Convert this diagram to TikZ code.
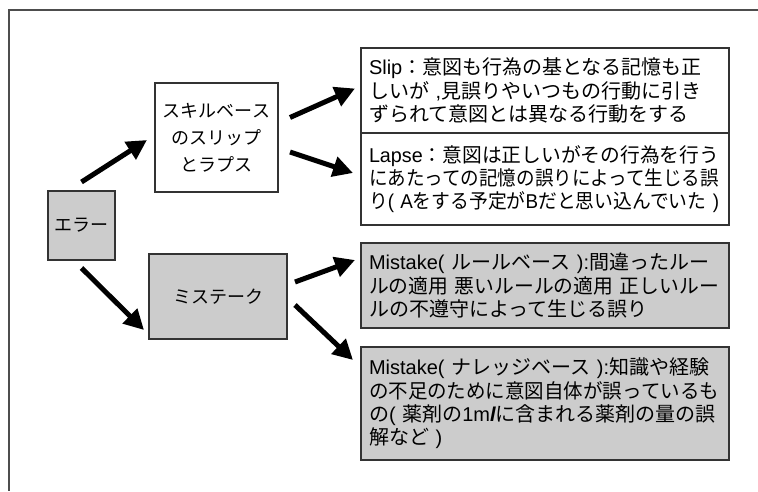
\documentclass[tikz,border=0pt]{standalone}
\usepackage{fontspec}
\usepackage{graphicx}
\setmainfont{Noto Sans CJK JP}
\newfontfamily\lat{Liberation Sans}
\usetikzlibrary{arrows.meta,calc}
\definecolor{boxgray}{HTML}{CCCCCC}
\definecolor{edgegray}{HTML}{333333}
\definecolor{framegray}{HTML}{4D4D4D}
\newsavebox\mylinebox
\newcommand\oneline[1]{\sbox\mylinebox{#1}\ifdim\wd\mylinebox>350pt \resizebox{350pt}{\height}{\usebox\mylinebox}\else\usebox\mylinebox\fi}
\begin{document}
\begin{tikzpicture}[x=1pt,y=-1pt,
  box/.style={draw=edgegray,line width=1.3pt,inner sep=0pt,outer sep=0pt},
  leftbox/.style={box,align=center,font=\fontsize{18}{27}\selectfont},
  textbox/.style={box,anchor=north west,text width=352pt,inner xsep=8pt,align=left,font=\fontsize{20}{23.3}\selectfont},
  arr/.style={line width=5pt,-{Triangle[length=20pt,width=20pt]}}]
\useasboundingbox (0,0) rectangle (758,491);
\draw[framegray,line width=2pt] (758,10) -- (9,10) -- (9,491);

\node[leftbox,fill=boxgray,minimum width=67pt,minimum height=69pt] (e) at (81.5,225.5) {エラー};
\node[leftbox,fill=white,minimum width=123pt,minimum height=109pt] (s) at (216.5,137.5) {スキルベース\\のスリップ\\とラプス};
\node[leftbox,fill=boxgray,minimum width=138pt,minimum height=85pt] (m) at (218,296.5) {ミステーク};

\node[textbox,fill=white,minimum height=85pt] (slip) at (361,48)
  {\oneline{{\lat Slip}：意図も行為の基となる記憶も正}\\
   \oneline{しいが{\lat\ ,}見誤りやいつもの行動に引き}\\
   \oneline{ずられて意図とは異なる行動をする}};
\node[textbox,fill=white,minimum height=92pt] (lapse) at (361,133)
  {\oneline{{\lat Lapse}：意図は正しいがその行為を行う}\\
   \oneline{にあたっての記憶の誤りによって生じる誤}\\
   \oneline{り{\lat ( A}をする予定が{\lat B}だと思い込んでいた{\lat\ )}}};
\node[textbox,fill=boxgray,minimum height=85pt] (rule) at (361,243)
  {\oneline{{\lat Mistake( }ルールベース{\lat\ ):}間違ったルー}\\
   \oneline{ルの適用 悪いルールの適用 正しいルー}\\
   \oneline{ルの不遵守によって生じる誤り}};
\node[textbox,fill=boxgray,minimum height=113pt] (know) at (361,347)
  {\oneline{{\lat Mistake( }ナレッジベース{\lat\ ):}知識や経験}\\
   \oneline{の不足のために意図自体が誤っているも}\\
   \oneline{の{\lat ( }薬剤の{\lat 1m{\bfseries\itshape l}}に含まれる薬剤の量の誤}\\
   \oneline{解など{\lat\ )}}};

\draw[arr] ($(e.north)+(0,-9)$) -- ($(s.west)+(-8,2.5)$);
\draw[arr] ($(e.south)+(0,8)$) -- ($(m.south west)+(-5,-9)$);
\draw[arr] ($(s.east)+(12,-20)$) -- ($(slip.west)+(-6,-2)$);
\draw[arr] ($(s.east)+(12,14.5)$) -- ($(lapse.west)+(-8,-6)$);
\draw[arr] ($(m.east)+(8,-14.5)$) -- ($(rule.north west)+(-6,17)$);
\draw[arr] ($(m.east)+(8,8.5)$) -- ($(know.north west)+(-8,13)$);
\end{tikzpicture}
\end{document}
